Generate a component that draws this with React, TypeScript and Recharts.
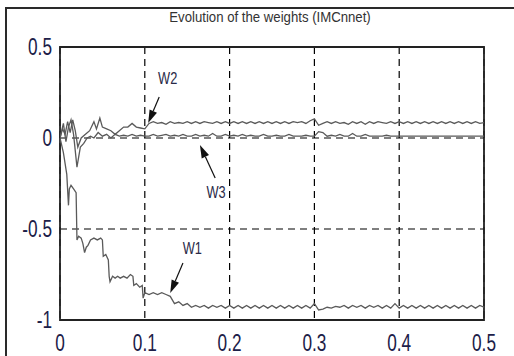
import type { FC } from 'react';
import {
  LineChart,
  Line,
  XAxis,
  YAxis,
  CartesianGrid,
  ReferenceArea,
  ReferenceLine,
  ReferenceDot,
} from 'recharts';

const xTicks = [0, 0.1, 0.2, 0.3, 0.4, 0.5];
const yTicks = [-1, -0.5, 0, 0.5];

// early transient, each weight has its own sample times
const w1EarlyT = [0, 0.004, 0.008, 0.01, 0.011, 0.013, 0.016, 0.019, 0.02, 0.022, 0.025, 0.027, 0.029, 0.031, 0.033, 0.036, 0.04, 0.044, 0.048, 0.05, 0.051, 0.054, 0.057, 0.058, 0.059, 0.062, 0.065, 0.068, 0.071, 0.075, 0.079, 0.083, 0.086, 0.087, 0.09, 0.094, 0.097, 0.098, 0.1];
const w1Early = [0, -0.08, -0.2, -0.37, -0.28, -0.26, -0.28, -0.3, -0.56, -0.54, -0.55, -0.58, -0.63, -0.6, -0.59, -0.56, -0.55, -0.56, -0.55, -0.56, -0.65, -0.64, -0.67, -0.76, -0.79, -0.76, -0.77, -0.76, -0.77, -0.76, -0.77, -0.75, -0.76, -0.81, -0.8, -0.82, -0.81, -0.88, -0.85];

const w2EarlyT = [0, 0.003, 0.006, 0.009, 0.012, 0.015, 0.018, 0.021, 0.025, 0.03, 0.035, 0.04, 0.043, 0.047, 0.05, 0.055, 0.06, 0.065, 0.07, 0.075, 0.08, 0.085, 0.09, 0.095, 0.1];
const w2Early = [0, 0.05, 0.02, 0.09, 0.03, 0.1, 0.04, -0.05, 0.0, 0.02, 0.04, 0.09, 0.05, 0.11, 0.06, 0.05, 0.04, 0.02, 0.04, 0.06, 0.06, 0.08, 0.06, 0.055, 0.05];

const w3EarlyT = [0, 0.004, 0.007, 0.01, 0.013, 0.016, 0.02, 0.024, 0.028, 0.032, 0.036, 0.04, 0.045, 0.05, 0.055, 0.06, 0.065, 0.07, 0.075, 0.08, 0.085, 0.09, 0.095, 0.1];
const w3Early = [0, 0.08, -0.02, 0.06, 0.1, 0.02, -0.16, -0.05, -0.03, 0.0, 0.01, 0.0, 0.03, 0.01, 0.02, 0.0, 0.02, 0.01, 0.015, 0.01, 0.02, 0.01, 0.015, 0.01];

// settled part, shared sample times
const steadyT = [
  0.105, 0.11, 0.115, 0.12, 0.125, 0.13, 0.135, 0.14, 0.145, 0.15,
  0.155, 0.16, 0.165, 0.17, 0.175, 0.18, 0.185, 0.19, 0.195, 0.2,
  0.205, 0.21, 0.215, 0.22, 0.225, 0.23, 0.235, 0.24, 0.245, 0.25,
  0.255, 0.26, 0.265, 0.27, 0.275, 0.28, 0.285, 0.29, 0.295, 0.3,
  0.305, 0.31, 0.315, 0.32, 0.325, 0.33, 0.335, 0.34, 0.345, 0.35,
  0.355, 0.36, 0.365, 0.37, 0.375, 0.38, 0.385, 0.39, 0.395, 0.4,
  0.405, 0.41, 0.415, 0.42, 0.425, 0.43, 0.435, 0.44, 0.445, 0.45,
  0.455, 0.46, 0.465, 0.47, 0.475, 0.48, 0.485, 0.49, 0.495, 0.5,
];

const w1Steady = [
  -0.86, -0.85, -0.86, -0.85, -0.86, -0.87, -0.91, -0.9, -0.92, -0.91,
  -0.93, -0.92, -0.93, -0.92, -0.935, -0.92, -0.93, -0.92, -0.935, -0.92,
  -0.935, -0.92, -0.935, -0.92, -0.935, -0.92, -0.935, -0.92, -0.935, -0.92,
  -0.935, -0.92, -0.935, -0.92, -0.935, -0.92, -0.935, -0.92, -0.935, -0.91,
  -0.945, -0.94, -0.93, -0.935, -0.925, -0.93, -0.92, -0.935, -0.92, -0.93,
  -0.92, -0.935, -0.92, -0.93, -0.92, -0.935, -0.92, -0.935, -0.91, -0.935,
  -0.92, -0.935, -0.92, -0.935, -0.92, -0.935, -0.92, -0.935, -0.92, -0.935,
  -0.92, -0.935, -0.92, -0.935, -0.92, -0.935, -0.92, -0.935, -0.92, -0.93,
];

const w2Steady = [
  0.08, 0.09, 0.08, 0.085, 0.075, 0.09, 0.08, 0.085, 0.08, 0.09,
  0.08, 0.09, 0.08, 0.09, 0.085, 0.08, 0.09, 0.08, 0.09, 0.08,
  0.09, 0.08, 0.09, 0.08, 0.09, 0.08, 0.09, 0.08, 0.09, 0.08,
  0.09, 0.08, 0.09, 0.08, 0.09, 0.085, 0.09, 0.08, 0.095, 0.105,
  0.07, 0.08, 0.09, 0.08, 0.09, 0.08, 0.085, 0.075, 0.09, 0.08,
  0.09, 0.075, 0.09, 0.08, 0.09, 0.085, 0.08, 0.09, 0.08, 0.09,
  0.08, 0.09, 0.08, 0.09, 0.08, 0.09, 0.08, 0.09, 0.08, 0.09,
  0.08, 0.09, 0.08, 0.09, 0.08, 0.09, 0.08, 0.09, 0.08, 0.085,
];

const w3Steady = [
  0.01, 0.02, 0.01, 0.015, 0.02, 0.01, 0.015, 0.01, 0.02, 0.01,
  0.01, 0.02, 0.01, 0.015, 0.01, 0.025, 0.01, 0.01, 0.02, 0.01,
  0.015, 0.01, 0.02, 0.01, 0.015, 0.01, 0.01, 0.02, 0.01, 0.01,
  0.015, 0.01, 0.01, 0.02, 0.01, 0.01, 0.01, 0.015, 0.01, 0.01,
  0.035, 0.03, 0.01, 0.015, 0.01, 0.02, 0.01, 0.01, 0.025, 0.01,
  0.01, 0.02, 0.01, 0.01, 0.01, 0.01, 0.015, 0.01, 0.01, 0.01,
  0.01, 0.01, 0.01, 0.01, 0.01, 0.01, 0.01, 0.01, 0.01, 0.01,
  0.01, 0.01, 0.01, 0.01, 0.01, 0.01, 0.01, 0.01, 0.01, 0.01,
];

const build = (earlyT: number[], early: number[], steady: number[]) => [
  ...earlyT.map((t, i) => ({ t, v: early[i] })),
  ...steadyT.map((t, i) => ({ t, v: steady[i] })),
];

const w1Data = build(w1EarlyT, w1Early, w1Steady);
const w2Data = build(w2EarlyT, w2Early, w2Steady);
const w3Data = build(w3EarlyT, w3Early, w3Steady);

// annotation label and arrow (tail -> tip) positions, data units
const notes = [
  { name: 'W2', lx: 0.127, ly: 0.33, tail: [0.117, 0.225], tip: [0.104, 0.082] },
  { name: 'W3', lx: 0.184, ly: -0.297, tail: [0.183, -0.22], tip: [0.165, -0.038] },
  { name: 'W1', lx: 0.156, ly: -0.604, tail: [0.145, -0.687], tip: [0.13, -0.852] },
];

const TICK_COLOR = '#1c2048';
const FONT = '"Liberation Sans", Arial, sans-serif';

const fmt = (v: number) => (v === 0 ? '0' : String(v));

const XTick = (props: any) => {
  const { x, payload } = props;
  return (
    <text
      transform={`translate(${x},351) scale(0.75,1)`}
      textAnchor="middle"
      fontSize={23}
      fontFamily={FONT}
      fill={TICK_COLOR}
    >
      {fmt(payload.value)}
    </text>
  );
};

const YTick = (props: any) => {
  const { y, payload } = props;
  return (
    <text
      transform={`translate(52,${y + 8}) scale(0.75,1)`}
      textAnchor="end"
      fontSize={23}
      fontFamily={FONT}
      fill={TICK_COLOR}
    >
      {fmt(payload.value)}
    </text>
  );
};

const Arrow = (props: any) => {
  const { x1, y1, x2, y2 } = props;
  const ang = Math.atan2(y2 - y1, x2 - x1);
  const len = 13;
  const half = 4;
  const bx = x2 - len * Math.cos(ang);
  const by = y2 - len * Math.sin(ang);
  const px = -Math.sin(ang) * half;
  const py = Math.cos(ang) * half;
  return (
    <g>
      <line x1={x1} y1={y1} x2={bx} y2={by} stroke="#111" strokeWidth={1.2} />
      <polygon points={`${x2},${y2} ${bx + px},${by + py} ${bx - px},${by - py}`} fill="#111" />
    </g>
  );
};

const NoteLabel = (name: string) => (props: any) => {
  const { cx, cy } = props;
  return (
    <text
      transform={`translate(${cx},${cy + 6}) scale(0.8,1)`}
      textAnchor="middle"
      fontSize={16}
      fontFamily={FONT}
      fill="#2a2a48"
    >
      {name}
    </text>
  );
};

const App: FC = () => {
  return (
    <div style={{ position: 'absolute', left: 0, top: 0, width: 514, height: 356, background: '#fff', overflow: 'hidden' }}>
      <div
        style={{
          position: 'absolute',
          left: 5,
          top: 7,
          width: 600,
          height: 400,
          borderTop: '2.5px solid #2a2a2a',
          borderLeft: '2.5px solid #2a2a2a',
        }}
      />
      <svg style={{ position: 'absolute', left: 0, top: 0 }} width={514} height={40}>
        <text
          transform="translate(270,22) scale(0.88,1)"
          textAnchor="middle"
          fontSize={15}
          fontFamily={FONT}
          fill="#333"
        >
          Evolution of the weights (IMCnnet)
        </text>
      </svg>
      <div style={{ position: 'absolute', left: 0, top: 0 }}>
        <LineChart width={514} height={356} margin={{ top: 47, right: 30, bottom: 0, left: 0 }}>
          <CartesianGrid stroke="#000" strokeDasharray="7 5" strokeWidth={1.2} />
          <XAxis
            dataKey="t"
            type="number"
            domain={[0, 0.5]}
            ticks={xTicks}
            height={36}
            axisLine={false}
            tickLine={false}
            tick={<XTick />}
            allowDataOverflow
          />
          <YAxis
            type="number"
            domain={[-1, 0.5]}
            ticks={yTicks}
            width={60}
            axisLine={false}
            tickLine={false}
            tick={<YTick />}
            allowDataOverflow
          />
          <Line data={w2Data} dataKey="v" stroke="#5a5a5a" strokeWidth={1.3} dot={false} isAnimationActive={false} />
          <Line data={w3Data} dataKey="v" stroke="#5a5a5a" strokeWidth={1.3} dot={false} isAnimationActive={false} />
          <Line data={w1Data} dataKey="v" stroke="#5a5a5a" strokeWidth={1.3} dot={false} isAnimationActive={false} />
          <ReferenceArea x1={0} x2={0.5} y1={-1} y2={0.5} fill="none" stroke="#222" strokeWidth={1.8} ifOverflow="visible" />
          {notes.map((n) => (
            <ReferenceLine
              key={`a-${n.name}`}
              segment={[{ x: n.tail[0], y: n.tail[1] }, { x: n.tip[0], y: n.tip[1] }]}
              shape={<Arrow />}
              ifOverflow="visible"
            />
          ))}
          {notes.map((n) => (
            <ReferenceDot key={`l-${n.name}`} x={n.lx} y={n.ly} r={0} shape={NoteLabel(n.name)} ifOverflow="visible" />
          ))}
        </LineChart>
      </div>
    </div>
  );
};

export default App;
